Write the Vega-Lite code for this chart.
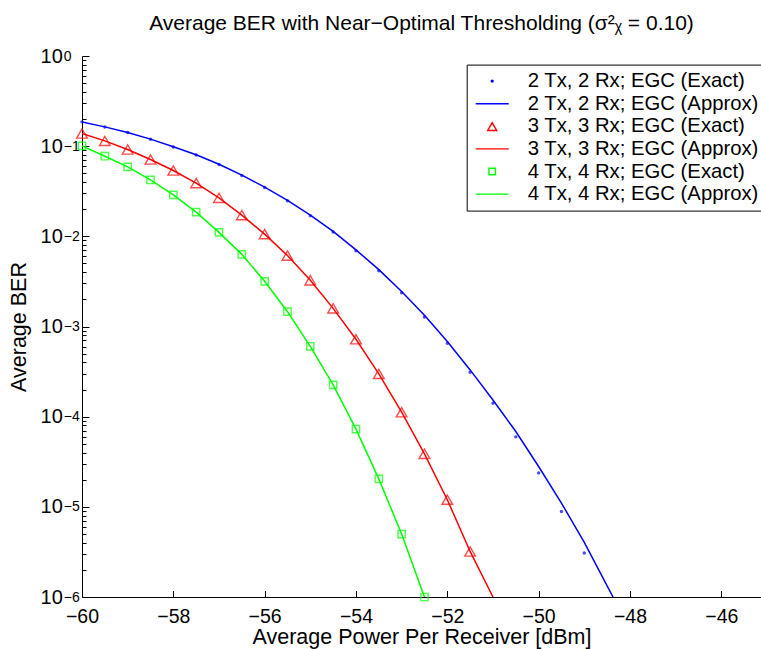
{
  "$schema": "https://vega.github.io/schema/vega-lite/v6.json",
  "autosize": {"type": "none"},
  "padding": {"left": 82, "top": 56, "right": 0, "bottom": 52},
  "width": 679,
  "height": 541,
  "background": "white",
  "title": {
    "text": "Average BER with Near−Optimal Thresholding (σ²ᵪ = 0.10)",
    "font": "Liberation Sans",
    "fontSize": 21,
    "fontWeight": "normal",
    "color": "black",
    "anchor": "middle",
    "baseline": "alphabetic",
    "offset": -5
  },
  "datasets": {
    "approx": [
      {"p": -60, "ber": 0.186, "s": "2 Tx, 2 Rx; EGC (Approx)"},
      {"p": -59.5, "ber": 0.1636, "s": "2 Tx, 2 Rx; EGC (Approx)"},
      {"p": -59, "ber": 0.142, "s": "2 Tx, 2 Rx; EGC (Approx)"},
      {"p": -58.5, "ber": 0.1198, "s": "2 Tx, 2 Rx; EGC (Approx)"},
      {"p": -58, "ber": 0.0985, "s": "2 Tx, 2 Rx; EGC (Approx)"},
      {"p": -57.5, "ber": 0.0804, "s": "2 Tx, 2 Rx; EGC (Approx)"},
      {"p": -57, "ber": 0.063, "s": "2 Tx, 2 Rx; EGC (Approx)"},
      {"p": -56.5, "ber": 0.0477, "s": "2 Tx, 2 Rx; EGC (Approx)"},
      {"p": -56, "ber": 0.0352, "s": "2 Tx, 2 Rx; EGC (Approx)"},
      {"p": -55.5, "ber": 0.0251, "s": "2 Tx, 2 Rx; EGC (Approx)"},
      {"p": -55, "ber": 0.01715, "s": "2 Tx, 2 Rx; EGC (Approx)"},
      {"p": -54.5, "ber": 0.01135, "s": "2 Tx, 2 Rx; EGC (Approx)"},
      {"p": -54, "ber": 0.00708, "s": "2 Tx, 2 Rx; EGC (Approx)"},
      {"p": -53.5, "ber": 0.00427, "s": "2 Tx, 2 Rx; EGC (Approx)"},
      {"p": -53, "ber": 0.00245, "s": "2 Tx, 2 Rx; EGC (Approx)"},
      {"p": -52.5, "ber": 0.00133, "s": "2 Tx, 2 Rx; EGC (Approx)"},
      {"p": -52, "ber": 0.00068, "s": "2 Tx, 2 Rx; EGC (Approx)"},
      {"p": -51.5, "ber": 0.00033, "s": "2 Tx, 2 Rx; EGC (Approx)"},
      {"p": -51, "ber": 0.000153, "s": "2 Tx, 2 Rx; EGC (Approx)"},
      {"p": -50.5, "ber": 0.0000684, "s": "2 Tx, 2 Rx; EGC (Approx)"},
      {"p": -50, "ber": 0.000028, "s": "2 Tx, 2 Rx; EGC (Approx)"},
      {"p": -49.5, "ber": 0.000011, "s": "2 Tx, 2 Rx; EGC (Approx)"},
      {"p": -49, "ber": 0.00000403, "s": "2 Tx, 2 Rx; EGC (Approx)"},
      {"p": -48.5, "ber": 0.00000133, "s": "2 Tx, 2 Rx; EGC (Approx)"},
      {"p": -48.37, "ber": 0.000001, "s": "2 Tx, 2 Rx; EGC (Approx)"},
      {"p": -60, "ber": 0.1381, "s": "3 Tx, 3 Rx; EGC (Approx)"},
      {"p": -59.5, "ber": 0.1144, "s": "3 Tx, 3 Rx; EGC (Approx)"},
      {"p": -59, "ber": 0.0919, "s": "3 Tx, 3 Rx; EGC (Approx)"},
      {"p": -58.5, "ber": 0.0712, "s": "3 Tx, 3 Rx; EGC (Approx)"},
      {"p": -58, "ber": 0.0537, "s": "3 Tx, 3 Rx; EGC (Approx)"},
      {"p": -57.5, "ber": 0.0389, "s": "3 Tx, 3 Rx; EGC (Approx)"},
      {"p": -57, "ber": 0.0267, "s": "3 Tx, 3 Rx; EGC (Approx)"},
      {"p": -56.5, "ber": 0.01719, "s": "3 Tx, 3 Rx; EGC (Approx)"},
      {"p": -56, "ber": 0.01059, "s": "3 Tx, 3 Rx; EGC (Approx)"},
      {"p": -55.5, "ber": 0.00612, "s": "3 Tx, 3 Rx; EGC (Approx)"},
      {"p": -55, "ber": 0.00325, "s": "3 Tx, 3 Rx; EGC (Approx)"},
      {"p": -54.5, "ber": 0.00159, "s": "3 Tx, 3 Rx; EGC (Approx)"},
      {"p": -54, "ber": 0.000722, "s": "3 Tx, 3 Rx; EGC (Approx)"},
      {"p": -53.5, "ber": 0.000298, "s": "3 Tx, 3 Rx; EGC (Approx)"},
      {"p": -53, "ber": 0.000112, "s": "3 Tx, 3 Rx; EGC (Approx)"},
      {"p": -52.5, "ber": 0.0000387, "s": "3 Tx, 3 Rx; EGC (Approx)"},
      {"p": -52, "ber": 0.000012, "s": "3 Tx, 3 Rx; EGC (Approx)"},
      {"p": -51.5, "ber": 0.0000032, "s": "3 Tx, 3 Rx; EGC (Approx)"},
      {"p": -51, "ber": 0.000001, "s": "3 Tx, 3 Rx; EGC (Approx)"},
      {"p": -60, "ber": 0.1007, "s": "4 Tx, 4 Rx; EGC (Approx)"},
      {"p": -59.5, "ber": 0.0774, "s": "4 Tx, 4 Rx; EGC (Approx)"},
      {"p": -59, "ber": 0.0589, "s": "4 Tx, 4 Rx; EGC (Approx)"},
      {"p": -58.5, "ber": 0.0423, "s": "4 Tx, 4 Rx; EGC (Approx)"},
      {"p": -58, "ber": 0.0288, "s": "4 Tx, 4 Rx; EGC (Approx)"},
      {"p": -57.5, "ber": 0.01856, "s": "4 Tx, 4 Rx; EGC (Approx)"},
      {"p": -57, "ber": 0.01105, "s": "4 Tx, 4 Rx; EGC (Approx)"},
      {"p": -56.5, "ber": 0.00631, "s": "4 Tx, 4 Rx; EGC (Approx)"},
      {"p": -56, "ber": 0.00317, "s": "4 Tx, 4 Rx; EGC (Approx)"},
      {"p": -55.5, "ber": 0.00146, "s": "4 Tx, 4 Rx; EGC (Approx)"},
      {"p": -55, "ber": 0.000603, "s": "4 Tx, 4 Rx; EGC (Approx)"},
      {"p": -54.5, "ber": 0.000225, "s": "4 Tx, 4 Rx; EGC (Approx)"},
      {"p": -54, "ber": 0.0000727, "s": "4 Tx, 4 Rx; EGC (Approx)"},
      {"p": -53.5, "ber": 0.0000204, "s": "4 Tx, 4 Rx; EGC (Approx)"},
      {"p": -53, "ber": 0.00000499, "s": "4 Tx, 4 Rx; EGC (Approx)"},
      {"p": -52.5, "ber": 0.000001, "s": "4 Tx, 4 Rx; EGC (Approx)"}
    ],
    "exact": [
      {"p": -60, "ber": 0.186, "s": "2 Tx, 2 Rx; EGC (Exact)"},
      {"p": -59.5, "ber": 0.1634, "s": "2 Tx, 2 Rx; EGC (Exact)"},
      {"p": -59, "ber": 0.1417, "s": "2 Tx, 2 Rx; EGC (Exact)"},
      {"p": -58.5, "ber": 0.1194, "s": "2 Tx, 2 Rx; EGC (Exact)"},
      {"p": -58, "ber": 0.0981, "s": "2 Tx, 2 Rx; EGC (Exact)"},
      {"p": -57.5, "ber": 0.08, "s": "2 Tx, 2 Rx; EGC (Exact)"},
      {"p": -57, "ber": 0.0626, "s": "2 Tx, 2 Rx; EGC (Exact)"},
      {"p": -56.5, "ber": 0.0473, "s": "2 Tx, 2 Rx; EGC (Exact)"},
      {"p": -56, "ber": 0.0348, "s": "2 Tx, 2 Rx; EGC (Exact)"},
      {"p": -55.5, "ber": 0.02475, "s": "2 Tx, 2 Rx; EGC (Exact)"},
      {"p": -55, "ber": 0.01689, "s": "2 Tx, 2 Rx; EGC (Exact)"},
      {"p": -54.5, "ber": 0.01114, "s": "2 Tx, 2 Rx; EGC (Exact)"},
      {"p": -54, "ber": 0.00692, "s": "2 Tx, 2 Rx; EGC (Exact)"},
      {"p": -53.5, "ber": 0.00415, "s": "2 Tx, 2 Rx; EGC (Exact)"},
      {"p": -53, "ber": 0.002368, "s": "2 Tx, 2 Rx; EGC (Exact)"},
      {"p": -52.5, "ber": 0.001274, "s": "2 Tx, 2 Rx; EGC (Exact)"},
      {"p": -52, "ber": 0.000652, "s": "2 Tx, 2 Rx; EGC (Exact)"},
      {"p": -51.5, "ber": 0.000311, "s": "2 Tx, 2 Rx; EGC (Exact)"},
      {"p": -51, "ber": 0.000141, "s": "2 Tx, 2 Rx; EGC (Exact)"},
      {"p": -50.5, "ber": 0.0000597, "s": "2 Tx, 2 Rx; EGC (Exact)"},
      {"p": -50, "ber": 0.0000238, "s": "2 Tx, 2 Rx; EGC (Exact)"},
      {"p": -49.5, "ber": 0.00000888, "s": "2 Tx, 2 Rx; EGC (Exact)"},
      {"p": -49, "ber": 0.00000307, "s": "2 Tx, 2 Rx; EGC (Exact)"},
      {"p": -60, "ber": 0.1381, "s": "3 Tx, 3 Rx; EGC (Exact)"},
      {"p": -59.5, "ber": 0.1144, "s": "3 Tx, 3 Rx; EGC (Exact)"},
      {"p": -59, "ber": 0.0919, "s": "3 Tx, 3 Rx; EGC (Exact)"},
      {"p": -58.5, "ber": 0.0712, "s": "3 Tx, 3 Rx; EGC (Exact)"},
      {"p": -58, "ber": 0.0537, "s": "3 Tx, 3 Rx; EGC (Exact)"},
      {"p": -57.5, "ber": 0.0389, "s": "3 Tx, 3 Rx; EGC (Exact)"},
      {"p": -57, "ber": 0.0267, "s": "3 Tx, 3 Rx; EGC (Exact)"},
      {"p": -56.5, "ber": 0.01719, "s": "3 Tx, 3 Rx; EGC (Exact)"},
      {"p": -56, "ber": 0.01059, "s": "3 Tx, 3 Rx; EGC (Exact)"},
      {"p": -55.5, "ber": 0.00612, "s": "3 Tx, 3 Rx; EGC (Exact)"},
      {"p": -55, "ber": 0.00325, "s": "3 Tx, 3 Rx; EGC (Exact)"},
      {"p": -54.5, "ber": 0.00159, "s": "3 Tx, 3 Rx; EGC (Exact)"},
      {"p": -54, "ber": 0.000722, "s": "3 Tx, 3 Rx; EGC (Exact)"},
      {"p": -53.5, "ber": 0.000298, "s": "3 Tx, 3 Rx; EGC (Exact)"},
      {"p": -53, "ber": 0.000112, "s": "3 Tx, 3 Rx; EGC (Exact)"},
      {"p": -52.5, "ber": 0.0000387, "s": "3 Tx, 3 Rx; EGC (Exact)"},
      {"p": -52, "ber": 0.000012, "s": "3 Tx, 3 Rx; EGC (Exact)"},
      {"p": -51.5, "ber": 0.0000032, "s": "3 Tx, 3 Rx; EGC (Exact)"},
      {"p": -60, "ber": 0.1007, "s": "4 Tx, 4 Rx; EGC (Exact)"},
      {"p": -59.5, "ber": 0.0774, "s": "4 Tx, 4 Rx; EGC (Exact)"},
      {"p": -59, "ber": 0.0589, "s": "4 Tx, 4 Rx; EGC (Exact)"},
      {"p": -58.5, "ber": 0.0423, "s": "4 Tx, 4 Rx; EGC (Exact)"},
      {"p": -58, "ber": 0.0288, "s": "4 Tx, 4 Rx; EGC (Exact)"},
      {"p": -57.5, "ber": 0.01856, "s": "4 Tx, 4 Rx; EGC (Exact)"},
      {"p": -57, "ber": 0.01105, "s": "4 Tx, 4 Rx; EGC (Exact)"},
      {"p": -56.5, "ber": 0.00631, "s": "4 Tx, 4 Rx; EGC (Exact)"},
      {"p": -56, "ber": 0.00317, "s": "4 Tx, 4 Rx; EGC (Exact)"},
      {"p": -55.5, "ber": 0.00146, "s": "4 Tx, 4 Rx; EGC (Exact)"},
      {"p": -55, "ber": 0.000603, "s": "4 Tx, 4 Rx; EGC (Exact)"},
      {"p": -54.5, "ber": 0.000225, "s": "4 Tx, 4 Rx; EGC (Exact)"},
      {"p": -54, "ber": 0.0000727, "s": "4 Tx, 4 Rx; EGC (Exact)"},
      {"p": -53.5, "ber": 0.0000204, "s": "4 Tx, 4 Rx; EGC (Exact)"},
      {"p": -53, "ber": 0.00000499, "s": "4 Tx, 4 Rx; EGC (Exact)"},
      {"p": -52.5, "ber": 0.000001, "s": "4 Tx, 4 Rx; EGC (Exact)"}
    ]
  },
  "layer": [
    {
      "data": {"name": "approx"},
      "mark": {"type": "line", "strokeWidth": 1.5, "clip": true},
      "encoding": {
        "x": {
          "field": "p", "type": "quantitative",
          "scale": {"domain": [-60, -45.13], "nice": false, "zero": false},
          "axis": {
            "values": [-60, -58, -56, -54, -52, -50, -48, -46],
            "title": "Average Power Per Receiver [dBm]",
            "titleFontSize": 21.5, "titleFontWeight": "normal",
            "titleBaseline": "alphabetic", "titleY": 46,
            "labelFontSize": 19.5, "labelPadding": 17, "labelFlush": false, "labelOverlap": false,
            "tickSize": -6.5, "grid": false
          }
        },
        "y": {
          "field": "ber", "type": "quantitative",
          "scale": {"type": "log", "domain": [0.000001, 1], "nice": false},
          "axis": {
            "orient": "left",
            "values": [0.000001, 0.00001, 0.0001, 0.001, 0.01, 0.1, 1],
            "labelExpr": "'10'",
            "labelAlign": "right", "labelBaseline": "middle",
            "labelFontSize": 20, "labelPadding": 26.7, "labelOverlap": false, "labelFlush": false,
            "tickSize": -7, "grid": false,
            "title": "Average BER", "titleFontSize": 21.5, "titleFontWeight": "normal", "titlePadding": 10
          }
        },
        "color": {
          "field": "s", "type": "nominal",
          "scale": {
            "domain": ["2 Tx, 2 Rx; EGC (Exact)", "2 Tx, 2 Rx; EGC (Approx)", "3 Tx, 3 Rx; EGC (Exact)", "3 Tx, 3 Rx; EGC (Approx)", "4 Tx, 4 Rx; EGC (Exact)", "4 Tx, 4 Rx; EGC (Approx)"],
            "range": ["#0000ff", "#0000ff", "#ff0000", "#ff0000", "#00ff00", "#00ff00"]
          },
          "legend": {
            "title": null,
            "orient": "none", "legendX": 384.7, "legendY": 8.6,
            "strokeColor": "black", "fillColor": "white", "padding": 5.5,
            "labelFontSize": 20.3, "labelLimit": 400, "labelOffset": 24.5,
            "symbolSize": 484, "symbolStrokeWidth": 0, "symbolOffset": 9, "rowPadding": 0.6,
            "symbolType": {"expr": "indexof(datum.value, 'Approx') >= 0 ? 'M-1.5,-0.065H1.5V0.065H-1.5Z' : (indexof(datum.value, '2 Tx') == 0 ? 'M0.15,0A0.15,0.15,0,1,1,-0.15,0A0.15,0.15,0,1,1,0.15,0Z' : (indexof(datum.value, '3 Tx') == 0 ? 'M0,-0.45L0.52,0.45L-0.52,0.45ZM0,-0.196L-0.3,0.323L0.3,0.323Z' : 'M-0.36,-0.36H0.36V0.36H-0.36ZM-0.23,-0.23V0.23H0.23V-0.23Z'))"}
          }
        }
      }
    },
    {
      "data": {"name": "exact"},
      "transform": [{"filter": {"field": "s", "equal": "2 Tx, 2 Rx; EGC (Exact)"}}],
      "mark": {"type": "point", "shape": "circle", "filled": true, "size": 12},
      "encoding": {
        "x": {"field": "p", "type": "quantitative"},
        "y": {
          "field": "ber", "type": "quantitative",
          "scale": {"type": "log", "domain": [0.000001, 1], "nice": false},
          "axis": {
            "orient": "left",
            "values": [0.000001, 0.00001, 0.0001, 0.001, 0.01, 0.1, 1],
            "labelExpr": "datum.value >= 1 ? '0' : '−' + round(-log(datum.value) / LN10)",
            "labelAlign": "left", "labelBaseline": "middle",
            "labelFontSize": 14, "labelPadding": 18.7, "labelDy": -8,
            "labelOverlap": false, "labelFlush": false,
            "ticks": false, "domain": false, "grid": false, "title": null
          }
        },
        "color": {"field": "s", "type": "nominal", "legend": null}
      }
    },
    {
      "data": {"name": "exact"},
      "transform": [{"filter": {"field": "s", "oneOf": ["3 Tx, 3 Rx; EGC (Exact)", "4 Tx, 4 Rx; EGC (Exact)"]}}],
      "mark": {"type": "point", "filled": false, "strokeWidth": 1.4},
      "encoding": {
        "x": {"field": "p", "type": "quantitative"},
        "y": {
          "field": "ber", "type": "quantitative",
          "scale": {"type": "log", "domain": [0.000001, 1], "nice": false},
          "axis": {
            "orient": "left",
            "values": [0.000002, 0.000003, 0.000004, 0.000005, 0.000006, 0.000007, 0.000008, 0.000009,
                       0.00002, 0.00003, 0.00004, 0.00005, 0.00006, 0.00007, 0.00008, 0.00009,
                       0.0002, 0.0003, 0.0004, 0.0005, 0.0006, 0.0007, 0.0008, 0.0009,
                       0.002, 0.003, 0.004, 0.005, 0.006, 0.007, 0.008, 0.009,
                       0.02, 0.03, 0.04, 0.05, 0.06, 0.07, 0.08, 0.09,
                       0.2, 0.3, 0.4, 0.5, 0.6, 0.7, 0.8, 0.9],
            "labels": false, "domain": false, "grid": false, "title": null,
            "tickSize": -4
          }
        },
        "color": {"field": "s", "type": "nominal", "legend": null},
        "shape": {
          "field": "s", "type": "nominal",
          "scale": {"domain": ["3 Tx, 3 Rx; EGC (Exact)", "4 Tx, 4 Rx; EGC (Exact)"], "range": ["triangle-up", "square"]},
          "legend": null
        },
        "size": {
          "field": "s", "type": "nominal",
          "scale": {"domain": ["3 Tx, 3 Rx; EGC (Exact)", "4 Tx, 4 Rx; EGC (Exact)"], "range": [114, 53]},
          "legend": null
        }
      }
    }
  ],
  "resolve": {"axis": {"y": "independent"}},
  "config": {
    "font": "Liberation Sans",
    "view": {"stroke": null},
    "axis": {
      "domainColor": "black", "tickColor": "black", "labelColor": "black", "titleColor": "black",
      "labelFont": "Liberation Sans", "titleFont": "Liberation Sans", "domainWidth": 1, "tickWidth": 1
    },
    "legend": {"labelColor": "black", "labelFont": "Liberation Sans"}
  }
}
